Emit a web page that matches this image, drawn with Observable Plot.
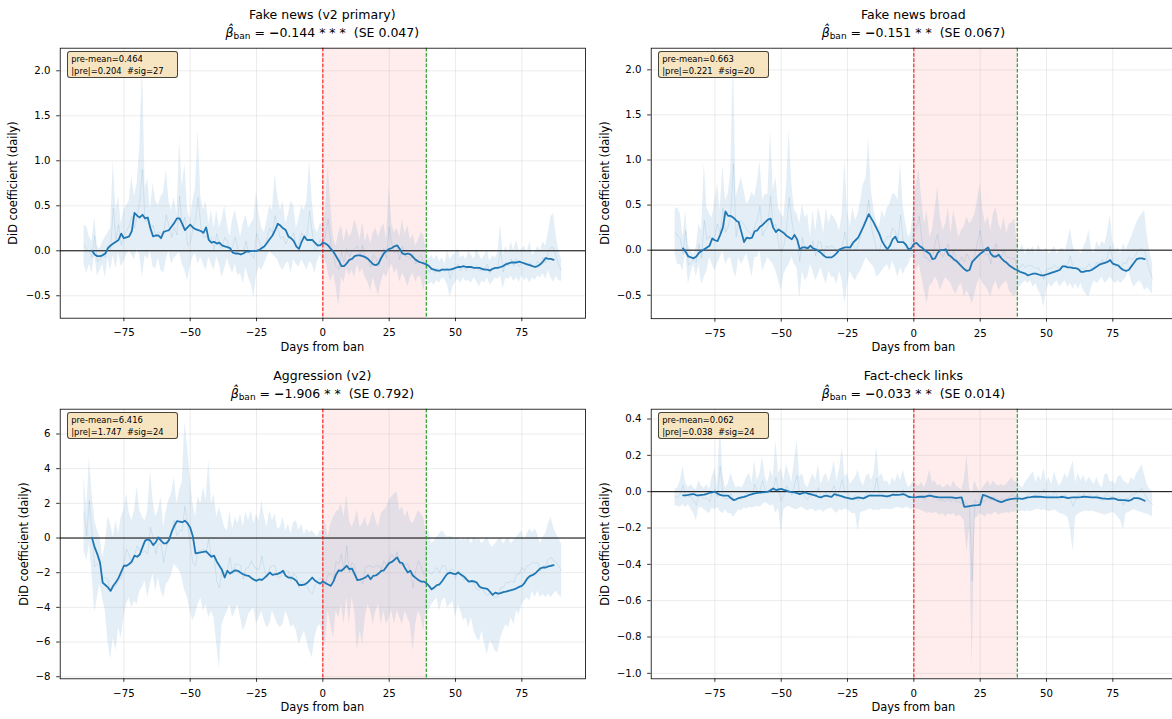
<!DOCTYPE html>
<html><head><meta charset="utf-8">
<script src="https://cdn.jsdelivr.net/npm/d3@7"></script>
<script src="https://cdn.jsdelivr.net/npm/@observablehq/plot@0.6"></script>
<style>
html,body{margin:0;padding:0;background:#fff;overflow:hidden;}
#fig{position:relative;width:1172px;height:719px;overflow:hidden;font-family:"DejaVu Sans",sans-serif;color:#000;}
.t{position:absolute;white-space:nowrap;transform:translate(-50%,-50%);line-height:1;}
.yl{position:absolute;white-space:nowrap;transform:translate(-50%,-50%) rotate(-90deg);line-height:1;font-size:11.4px;}
.sv{position:absolute;}
.box{position:absolute;box-sizing:border-box;background:rgba(245,222,179,0.8);border:1px solid rgba(0,0,0,0.7);border-radius:3px;font-size:8.4px;line-height:12px;padding:1px 0 0 3px;white-space:pre;}
</style></head><body><div id="fig"></div>
<script>
// ---------------- data ----------------
const days = d3.range(-90, 91);        // daily estimates
const smoothDays = d3.range(-87, 88);  // 7-day smoothed line
const xTicks = [-75, -50, -25, 0, 25, 50, 75];
const banWindow = [{start: 0, end: 39}];
const banStart = [0];
const banEnd = [39];

const titles = ["Fake news (v2 primary)", "Fake news broad", "Aggression (v2)", "Fact-check links"];
const betaValues = ["−0.144", "−0.151", "−1.906", "−0.033"];
const betaStars = ["* * *", "* *", "* *", "* *"];
const seValues = ["0.047", "0.067", "0.792", "0.014"];
const preMeans = ["0.464", "0.663", "6.416", "0.062"];
const preAbs = ["0.204", "0.221", "1.747", "0.038"];
const nSig = ["27", "20", "24", "24"];

// Fake news (v2 primary)
const fn1Hi = [
 0.28,0.27,0.15,0.10,0.38,0.05,0.02,0.10,0.15,0.20,
 0.25,1.00,0.45,0.60,0.30,0.45,0.50,0.55,0.82,0.60,
 0.75,1.15,2.11,0.70,0.80,0.45,0.75,0.55,0.50,0.60,
 0.65,0.90,0.55,0.45,0.60,0.40,1.23,0.70,0.97,0.45,
 0.35,0.55,0.70,1.34,0.60,0.45,0.55,0.30,0.45,0.25,
 0.45,0.25,0.35,0.50,0.30,0.15,0.35,0.45,0.30,0.15,
 0.30,0.40,0.25,0.30,0.35,0.67,0.40,0.25,0.20,0.35,
 0.50,0.45,0.85,0.60,0.45,0.55,0.30,0.40,0.55,0.50,
 0.25,0.35,0.50,0.45,0.55,1.00,0.55,0.25,0.20,0.30,
 0.30,0.45,0.95,0.50,0.15,0.05,0.20,0.28,0.10,0.25,
 0.15,0.20,0.35,0.25,0.12,0.32,0.10,0.20,0.08,0.20,
 0.25,0.15,0.25,0.30,0.12,0.73,0.30,0.20,0.25,0.15,
 0.35,0.18,0.28,0.12,0.18,0.05,0.12,0.20,0.18,0.00,
 -0.10,-0.05,-0.10,-0.05,-0.12,-0.08,-0.15,0.00,-0.10,-0.05,
 -0.03,0.02,-0.08,-0.05,-0.10,0.00,-0.05,-0.10,0.02,-0.05,
 -0.10,-0.05,0.00,-0.12,-0.05,-0.08,-0.02,0.30,-0.05,0.05,
 -0.02,0.10,0.00,0.12,0.00,0.02,0.05,-0.02,0.10,-0.05,
 -0.02,0.05,0.00,0.10,0.05,0.20,0.38,0.41,0.15,0.00,-0.10];
const fn1Lo = [
 -0.15,-0.25,-0.15,-0.25,-0.05,-0.28,-0.22,-0.15,-0.30,-0.08,
 -0.22,-0.05,-0.20,-0.02,-0.18,-0.12,-0.05,0.00,-0.05,-0.10,
 0.02,-0.05,-0.30,-0.05,-0.10,0.00,-0.18,-0.20,-0.08,-0.22,
 -0.25,-0.10,0.00,-0.15,-0.08,-0.05,-0.02,-0.15,-0.22,-0.33,
 -0.18,-0.07,-0.03,-0.15,-0.07,-0.15,-0.22,-0.07,-0.15,-0.22,
 -0.07,-0.15,-0.30,-0.20,-0.08,-0.18,-0.25,-0.15,-0.28,-0.25,
 -0.37,-0.18,-0.30,-0.37,-0.52,-0.28,-0.18,-0.22,-0.14,-0.07,
 0.00,-0.04,-0.07,-0.10,-0.18,-0.22,-0.15,-0.12,-0.25,-0.10,
 -0.15,-0.18,-0.10,-0.15,-0.22,-0.12,-0.15,-0.25,-0.12,-0.05,
 -0.15,-0.10,-0.25,-0.35,-0.25,-0.40,-0.62,-0.30,-0.35,-0.20,
 -0.28,-0.22,-0.30,-0.15,-0.25,-0.20,-0.30,-0.35,-0.45,-0.30,
 -0.40,-0.50,-0.35,-0.25,-0.30,-0.20,-0.15,-0.25,-0.20,-0.35,
 -0.25,-0.30,-0.40,-0.30,-0.25,-0.35,-0.28,-0.30,-0.45,-0.30,
 -0.38,-0.35,-0.38,-0.33,-0.36,-0.30,-0.32,-0.38,-0.52,-0.40,
 -0.35,-0.32,-0.36,-0.30,-0.34,-0.33,-0.36,-0.30,-0.34,-0.40,
 -0.33,-0.36,-0.30,-0.38,-0.35,-0.30,-0.32,-0.28,-0.42,-0.30,
 -0.32,-0.28,-0.34,-0.30,-0.35,-0.28,-0.33,-0.30,-0.36,-0.30,
 -0.33,-0.28,-0.30,-0.25,-0.32,-0.22,-0.30,-0.35,-0.28,-0.33,-0.34];
const fn1Smooth = [
 0.00,-0.04,-0.06,-0.06,-0.05,-0.03,0.03,0.06,0.08,0.10,
 0.12,0.19,0.14,0.15,0.16,0.22,0.42,0.39,0.37,0.40,
 0.36,0.37,0.25,0.16,0.17,0.17,0.14,0.21,0.22,0.23,
 0.27,0.31,0.36,0.36,0.30,0.23,0.26,0.29,0.26,0.24,
 0.23,0.22,0.20,0.26,0.12,0.09,0.10,0.08,0.09,0.06,
 0.05,0.04,0.03,-0.02,-0.03,-0.03,-0.04,-0.03,-0.01,-0.01,
 0.00,0.00,0.00,0.01,0.03,0.05,0.09,0.13,0.17,0.23,
 0.30,0.28,0.25,0.23,0.16,0.14,0.11,0.05,0.02,0.10,
 0.16,0.12,0.12,0.12,0.09,0.06,0.06,
 0.09,0.08,0.06,0.02,-0.01,-0.06,-0.11,-0.17,-0.17,-0.14,
 -0.10,-0.09,-0.06,-0.05,-0.05,-0.06,-0.07,-0.09,-0.12,-0.15,
 -0.16,-0.14,-0.08,-0.03,0.00,0.02,0.03,0.05,0.06,0.02,
 -0.03,-0.04,-0.03,-0.04,-0.07,-0.10,-0.12,-0.13,-0.14,-0.15,
 -0.17,-0.20,-0.21,-0.22,-0.22,-0.21,-0.21,-0.21,-0.21,-0.20,
 -0.19,-0.18,-0.18,-0.17,-0.18,-0.18,-0.18,-0.19,-0.19,-0.19,
 -0.20,-0.21,-0.21,-0.22,-0.20,-0.19,-0.19,-0.18,-0.17,-0.15,
 -0.14,-0.13,-0.13,-0.13,-0.12,-0.13,-0.14,-0.15,-0.16,-0.17,
 -0.18,-0.17,-0.15,-0.12,-0.08,-0.09,-0.09,-0.10];

// Fake news broad
const fn2Hi = [
 0.45,0.47,0.40,0.14,0.44,0.05,-0.01,-0.05,0.03,0.29,
 0.21,0.96,0.47,0.40,0.36,0.55,0.73,0.44,0.94,0.55,
 0.62,0.88,2.15,0.59,0.70,0.81,0.66,0.51,0.55,0.64,
 0.59,0.75,0.99,0.55,0.62,0.62,1.33,0.66,0.81,0.47,
 0.40,0.36,0.70,1.33,0.73,0.44,0.40,0.29,0.51,0.36,
 0.40,0.14,0.44,0.21,0.47,0.36,0.18,0.47,0.29,0.40,
 0.36,0.30,0.21,0.40,1.01,0.44,0.25,0.47,0.33,0.40,
 0.55,0.73,0.80,1.24,0.66,0.44,0.30,0.25,0.44,0.36,
 0.47,0.51,0.62,0.62,0.55,0.97,0.47,0.29,0.14,0.20,
 0.51,0.74,0.90,0.55,0.29,0.44,0.14,0.22,0.45,0.70,
 0.37,0.22,0.29,0.48,0.18,0.44,0.29,0.14,0.22,0.26,
 0.37,0.29,0.33,0.40,0.55,0.74,0.44,0.29,0.37,0.22,
 0.40,0.48,0.29,0.22,0.37,0.18,0.29,0.30,0.35,0.05,
 0.00,0.07,-0.05,0.03,0.00,0.04,-0.04,0.06,0.00,-0.02,
 0.03,-0.04,0.00,0.04,-0.04,0.00,0.03,-0.02,0.10,0.24,
 0.05,-0.02,0.00,-0.04,0.03,0.10,0.22,0.00,-0.04,0.10,
 0.03,0.10,0.06,0.20,0.39,0.10,0.00,0.03,-0.04,0.07,
 0.00,0.07,0.14,0.22,0.30,0.36,0.40,0.44,0.15,-0.02,-0.15];
const fn2Lo = [
 -0.04,-0.16,-0.16,-0.23,-0.01,-0.38,-0.25,-0.16,-0.30,-0.16,
 -0.38,-0.30,-0.23,-0.08,-0.16,-0.23,-0.15,-0.08,-0.01,-0.16,
 -0.10,-0.08,-0.23,-0.30,-0.08,-0.16,-0.10,-0.04,-0.16,-0.30,
 -0.08,-0.08,-0.01,-0.23,-0.16,-0.08,-0.12,-0.16,-0.23,-0.34,
 -0.45,-0.27,-0.20,-0.16,-0.08,-0.16,-0.20,-0.54,-0.23,-0.34,
 -0.30,-0.16,-0.23,-0.34,-0.27,-0.19,-0.30,-0.38,-0.23,-0.30,
 -0.30,-0.38,-0.23,-0.34,-0.60,-0.38,-0.23,-0.30,-0.34,-0.27,
 -0.23,-0.16,-0.08,-0.12,-0.16,-0.19,-0.30,-0.27,-0.23,-0.19,
 -0.16,-0.23,-0.12,-0.20,-0.30,-0.19,-0.27,-0.20,-0.16,-0.08,
 -0.08,-0.23,-0.15,-0.30,-0.45,-0.60,-0.40,-0.37,-0.30,-0.34,
 -0.45,-0.37,-0.30,-0.34,-0.37,-0.45,-0.49,-0.40,-0.37,-0.52,
 -0.45,-0.50,-0.60,-0.49,-0.37,-0.30,-0.37,-0.40,-0.45,-0.52,
 -0.40,-0.34,-0.45,-0.40,-0.37,-0.34,-0.45,-0.49,-0.52,-0.45,
 -0.40,-0.37,-0.34,-0.37,-0.34,-0.41,-0.37,-0.45,-0.50,-0.63,
 -0.45,-0.37,-0.41,-0.37,-0.34,-0.41,-0.37,-0.34,-0.41,-0.37,
 -0.43,-0.37,-0.43,-0.37,-0.45,-0.49,-0.52,-0.41,-0.34,-0.37,
 -0.34,-0.30,-0.37,-0.34,-0.30,-0.34,-0.37,-0.34,-0.37,-0.34,
 -0.30,-0.23,-0.34,-0.41,-0.37,-0.34,-0.37,-0.45,-0.41,-0.45,-0.49];
const fn2Smooth = [
 0.02,-0.02,-0.07,-0.08,-0.09,-0.07,-0.03,-0.01,0.01,0.03,
 0.05,0.13,0.11,0.10,0.17,0.25,0.43,0.38,0.38,0.36,
 0.33,0.31,0.20,0.09,0.14,0.13,0.14,0.21,0.22,0.26,
 0.28,0.31,0.34,0.35,0.25,0.20,0.23,0.21,0.19,0.16,
 0.14,0.12,0.17,0.12,0.01,0.03,0.03,0.02,0.05,0.02,
 0.01,-0.01,-0.03,-0.06,-0.08,-0.08,-0.08,-0.06,-0.03,0.01,
 0.02,0.03,0.03,0.03,0.08,0.11,0.14,0.20,0.26,0.33,
 0.40,0.35,0.30,0.24,0.18,0.10,0.05,0.01,0.05,0.12,
 0.15,0.09,0.09,0.09,0.06,0.01,0.02,
 0.07,0.08,0.05,0.03,0.00,-0.02,-0.04,-0.10,-0.09,-0.03,
 0.00,0.00,0.01,-0.05,-0.07,-0.10,-0.12,-0.15,-0.18,-0.21,
 -0.23,-0.22,-0.13,-0.10,-0.07,-0.04,-0.02,0.01,0.03,-0.04,
 -0.07,-0.07,-0.05,-0.09,-0.12,-0.14,-0.17,-0.19,-0.21,-0.22,
 -0.24,-0.25,-0.26,-0.28,-0.27,-0.26,-0.26,-0.27,-0.28,-0.28,
 -0.27,-0.26,-0.25,-0.24,-0.23,-0.22,-0.18,-0.18,-0.19,-0.19,
 -0.20,-0.20,-0.21,-0.24,-0.24,-0.23,-0.23,-0.22,-0.20,-0.18,
 -0.16,-0.15,-0.14,-0.13,-0.11,-0.15,-0.16,-0.17,-0.20,-0.22,
 -0.23,-0.22,-0.18,-0.14,-0.10,-0.09,-0.09,-0.10];

// Aggression (v2)
const agHi = [
 3.61,1.58,4.68,2.55,1.00,0.43,0.04,-1.12,-0.35,1.20,
 0.81,0.04,1.00,0.23,1.20,1.58,2.55,1.50,1.00,1.58,
 2.94,1.58,1.20,1.00,1.58,3.90,2.16,1.20,1.60,2.36,
 0.62,1.58,2.20,2.55,3.52,1.97,2.74,3.20,6.72,5.26,
 3.52,1.97,1.20,2.36,1.97,2.94,2.20,4.48,1.97,2.55,
 1.20,1.78,1.20,0.62,0.40,1.58,0.45,1.20,0.81,1.39,
 0.62,1.50,1.00,1.58,0.81,1.39,1.00,2.16,1.20,0.60,
 1.58,1.00,1.39,0.50,0.62,1.20,0.40,0.81,0.23,0.90,
 1.00,0.43,0.81,0.20,0.52,0.30,0.42,0.23,0.04,0.43,
 0.43,1.00,0.04,0.81,1.20,1.50,1.58,1.97,1.20,2.55,
 1.00,0.62,1.00,1.58,0.62,0.81,1.20,0.62,1.00,1.58,
 1.00,0.62,1.39,1.58,1.78,2.16,2.36,2.55,2.65,1.58,
 1.78,1.20,1.58,1.00,0.81,1.20,1.58,1.39,1.20,0.23,
 0.43,-0.35,-0.15,0.04,0.23,0.43,0.23,0.04,0.10,0.04,
 -0.10,0.04,-0.15,-0.05,-0.15,0.04,-0.35,0.04,-0.15,-0.05,
 -0.35,-0.15,0.04,-0.35,-0.54,-0.35,-0.15,0.04,-0.35,-0.15,
 0.04,-0.35,-0.15,0.04,0.23,0.43,-0.15,0.23,0.52,0.30,
 0.52,0.23,-0.35,0.04,0.23,0.81,1.20,0.60,0.23,-0.05,-0.35];
const agLo = [
 -0.73,-1.31,-0.35,-2.09,-4.31,-3.44,-2.67,-3.50,-4.21,-5.95,
 -7.01,-5.76,-6.53,-5.18,-5.76,-4.60,-3.83,-3.44,-4.02,-3.63,
 -3.83,-3.05,-2.86,-2.47,-3.44,-2.67,-2.09,-3.05,-2.28,-3.05,
 -3.44,-2.67,-2.47,-2.09,-1.51,-1.70,-1.89,-2.30,-3.05,-3.44,
 -4.21,-4.79,-4.41,-3.83,-3.44,-4.21,-3.83,-4.60,-4.21,-4.60,
 -6.14,-7.54,-4.99,-4.60,-4.21,-3.83,-4.60,-4.21,-3.83,-4.60,
 -5.37,-4.99,-4.41,-4.21,-4.02,-4.99,-4.60,-4.21,-4.79,-5.18,
 -4.99,-4.21,-4.60,-4.99,-5.18,-4.99,-4.21,-4.60,-5.18,-4.99,
 -5.37,-6.14,-5.76,-5.37,-5.95,-6.53,-6.92,-5.76,-5.18,-4.99,
 -5.76,-6.14,-4.21,-4.99,-5.76,-4.21,-4.60,-3.83,-4.99,-3.44,
 -4.99,-3.44,-4.21,-6.53,-5.37,-6.14,-4.60,-3.83,-4.21,-4.99,
 -4.21,-3.83,-4.99,-4.21,-4.99,-4.60,-4.21,-4.99,-4.21,-4.60,
 -4.99,-4.21,-4.60,-4.99,-6.53,-4.99,-4.21,-4.60,-5.37,-4.02,
 -4.21,-3.83,-3.63,-3.44,-4.21,-3.63,-3.44,-4.02,-3.83,-3.63,
 -4.60,-3.83,-4.21,-4.79,-4.60,-5.18,-4.60,-5.37,-5.76,-5.95,
 -5.37,-6.14,-6.73,-5.95,-6.14,-6.53,-6.62,-5.76,-5.37,-4.99,
 -5.18,-4.60,-4.99,-4.21,-4.41,-3.83,-3.63,-3.44,-3.63,-3.05,
 -3.44,-3.05,-3.44,-3.25,-3.44,-3.25,-3.44,-3.25,-3.05,-3.30,-3.44];
const agSmooth = [
 0.00,-0.54,-0.93,-1.41,-2.57,-2.71,-2.85,-3.05,-2.75,-2.55,
 -2.30,-1.95,-1.60,-1.60,-1.50,-1.35,-1.02,-1.08,-0.95,-0.54,
 -0.15,-0.08,-0.15,-0.41,-0.25,0.04,-0.15,-0.31,-0.31,-0.12,
 0.35,0.70,0.97,0.95,0.91,1.00,0.85,0.60,0.10,-0.89,
 -0.86,-0.83,-0.80,-0.77,-0.93,-1.08,-1.02,-1.35,-1.60,-1.85,
 -2.28,-1.89,-2.05,-1.95,-1.86,-1.89,-2.00,-2.09,-2.15,-2.18,
 -2.30,-2.40,-2.47,-2.38,-2.42,-2.30,-2.15,-1.99,-2.13,-2.09,
 -2.07,-2.00,-1.89,-2.18,-2.28,-2.28,-2.35,-2.47,-2.71,-2.71,
 -2.69,-2.60,-2.45,-2.28,-2.45,-2.55,-2.63,
 -2.51,-2.60,-2.68,-2.76,-2.50,-2.10,-1.86,-1.89,-1.75,-1.60,
 -1.80,-1.76,-2.09,-2.43,-2.40,-2.35,-2.28,-2.14,-2.38,-2.18,
 -2.16,-2.05,-1.89,-1.86,-1.65,-1.45,-1.38,-1.25,-1.12,-1.41,
 -1.45,-1.75,-1.99,-1.89,-2.18,-2.30,-2.42,-2.51,-2.51,-2.60,
 -2.76,-2.96,-2.85,-2.72,-2.67,-2.48,-2.25,-2.05,-2.00,-2.05,
 -2.09,-1.99,-2.10,-2.20,-2.35,-2.51,-2.48,-2.50,-2.57,-2.80,
 -2.88,-2.90,-2.93,-3.10,-3.28,-3.15,-3.21,-3.18,-3.12,-3.09,
 -3.05,-3.01,-2.96,-2.90,-2.82,-2.76,-2.60,-2.35,-2.20,-2.14,
 -2.05,-1.90,-1.75,-1.70,-1.70,-1.64,-1.60,-1.57];

// Fact-check links
const fcHi = [
 0.015,0.02,0.06,0.14,0.05,0.02,0.04,0.02,0.01,0.06,
 0.03,0.02,0.04,0.01,0.08,0.13,0.03,0.39,0.10,0.02,
 0.04,0.10,0.06,0.02,0.03,0.02,0.04,0.08,0.10,0.05,
 0.17,0.06,0.10,0.19,0.08,0.05,0.12,0.08,0.28,0.10,
 0.13,0.06,0.15,0.10,0.05,0.17,0.28,0.08,0.10,0.04,
 0.02,0.06,0.10,0.06,0.15,0.04,0.08,0.10,0.05,0.10,
 0.17,0.06,0.12,0.24,0.08,0.10,0.04,0.06,0.08,0.12,
 0.06,0.03,0.08,0.10,0.06,0.10,0.25,0.08,0.10,0.05,
 0.06,0.03,0.08,0.05,0.10,0.06,0.12,0.06,0.02,0.04,
 0.06,0.04,0.03,0.05,0.02,0.06,0.12,0.05,0.06,0.03,
 0.04,0.02,0.03,0.04,0.02,0.06,0.03,0.02,0.01,0.06,
 0.20,0.02,-0.01,0.06,0.02,0.00,0.02,0.04,0.06,0.03,
 0.06,0.04,0.03,0.04,0.03,0.04,0.06,0.08,0.05,0.06,
 0.03,0.02,0.05,0.07,0.09,0.11,0.05,0.09,0.06,0.13,
 0.05,0.08,0.04,0.11,0.06,0.03,0.06,0.10,0.07,0.12,
 0.17,0.05,0.10,0.06,0.09,0.05,0.08,0.06,0.04,0.08,
 0.04,0.02,0.09,0.10,0.05,0.06,0.04,0.08,0.09,0.06,
 0.05,0.04,0.08,0.06,0.10,0.12,0.15,0.09,0.04,0.01,0.00];
const fcLo = [
 -0.077,-0.08,-0.086,-0.07,-0.09,-0.07,-0.096,-0.12,-0.16,-0.09,
 -0.086,-0.10,-0.11,-0.12,-0.09,-0.10,-0.086,-0.11,-0.12,-0.10,
 -0.12,-0.12,-0.14,-0.12,-0.10,-0.105,-0.09,-0.096,-0.086,-0.09,
 -0.086,-0.08,-0.086,-0.07,-0.06,-0.068,-0.08,-0.07,-0.12,-0.09,
 -0.23,-0.10,-0.086,-0.08,-0.09,-0.096,-0.10,-0.09,-0.086,-0.10,
 -0.105,-0.10,-0.096,-0.11,-0.105,-0.10,-0.114,-0.10,-0.096,-0.09,
 -0.105,-0.12,-0.10,-0.105,-0.096,-0.10,-0.11,-0.123,-0.12,-0.22,
 -0.114,-0.11,-0.105,-0.10,-0.096,-0.105,-0.10,-0.105,-0.096,-0.10,
 -0.096,-0.10,-0.096,-0.09,-0.086,-0.09,-0.096,-0.086,-0.09,-0.10,
 -0.086,-0.096,-0.10,-0.105,-0.11,-0.12,-0.114,-0.12,-0.114,-0.12,
 -0.13,-0.12,-0.14,-0.12,-0.13,-0.12,-0.14,-0.13,-0.14,-0.16,
 -0.33,-0.20,-0.97,-0.15,-0.14,-0.12,-0.13,-0.14,-0.12,-0.13,
 -0.12,-0.11,-0.13,-0.12,-0.12,-0.114,-0.12,-0.11,-0.114,-0.10,
 -0.11,-0.105,-0.11,-0.105,-0.11,-0.105,-0.10,-0.096,-0.105,-0.10,
 -0.105,-0.11,-0.105,-0.10,-0.11,-0.12,-0.123,-0.13,-0.14,-0.20,
 -0.33,-0.14,-0.123,-0.114,-0.11,-0.105,-0.11,-0.105,-0.11,-0.114,
 -0.12,-0.123,-0.13,-0.123,-0.12,-0.114,-0.123,-0.142,-0.16,-0.21,
 -0.12,-0.114,-0.105,-0.10,-0.105,-0.11,-0.114,-0.12,-0.123,-0.13,-0.142];
const fcSmooth = [
 -0.020,-0.020,-0.018,-0.015,-0.013,-0.020,-0.020,-0.018,-0.016,-0.012,
 -0.006,-0.004,0.000,-0.010,-0.018,-0.022,-0.022,-0.022,-0.035,-0.046,
 -0.042,-0.035,-0.031,-0.028,-0.024,-0.018,-0.014,-0.009,-0.007,-0.005,
 -0.004,-0.002,0.000,0.008,0.018,0.009,0.012,0.015,0.010,0.006,
 0.000,-0.002,-0.004,-0.008,-0.013,-0.008,-0.004,-0.010,-0.013,-0.018,
 -0.022,-0.028,-0.031,-0.025,-0.022,-0.026,-0.028,-0.013,-0.018,-0.022,
 -0.026,-0.031,-0.034,-0.038,-0.040,-0.035,-0.031,-0.034,-0.037,-0.030,
 -0.022,-0.022,-0.022,-0.022,-0.022,-0.022,-0.024,-0.026,-0.022,-0.017,
 -0.018,-0.018,-0.016,-0.013,-0.020,-0.028,-0.030,
 -0.031,-0.030,-0.028,-0.028,-0.028,-0.025,-0.022,-0.025,-0.028,-0.030,
 -0.031,-0.031,-0.031,-0.031,-0.031,-0.033,-0.035,-0.033,-0.031,-0.083,
 -0.082,-0.079,-0.077,-0.075,-0.074,-0.072,-0.018,-0.022,-0.028,-0.034,
 -0.040,-0.047,-0.053,-0.057,-0.052,-0.046,-0.043,-0.040,-0.038,-0.037,
 -0.038,-0.040,-0.035,-0.031,-0.030,-0.028,-0.028,-0.028,-0.029,-0.030,
 -0.031,-0.031,-0.031,-0.031,-0.031,-0.030,-0.028,-0.031,-0.035,-0.033,
 -0.031,-0.031,-0.031,-0.030,-0.028,-0.029,-0.030,-0.031,-0.031,-0.031,
 -0.034,-0.037,-0.038,-0.040,-0.039,-0.037,-0.040,-0.046,-0.046,-0.046,
 -0.048,-0.050,-0.045,-0.035,-0.036,-0.037,-0.043,-0.050];

const yTicksFN = [-0.5, 0, 0.5, 1, 1.5, 2];
const yTicksAG = [-8, -6, -4, -2, 0, 2, 4, 6];
const yTicksFC = [-1, -0.8, -0.6, -0.4, -0.2, 0, 0.2, 0.4];

// ---------------- layout ----------------
const panels = [
  {left: 0,   top: 40,  hi: fn1Hi, lo: fn1Lo, sm: fn1Smooth, dom: [-0.749, 2.251], ticks: yTicksFN, fmt: ".1f", ph: 270,   ylx: 14.4},
  {left: 591, top: 40,  hi: fn2Hi, lo: fn2Lo, sm: fn2Smooth, dom: [-0.76, 2.24],   ticks: yTicksFN, fmt: ".1f", ph: 270.5, ylx: 14.7},
  {left: 0,   top: 401, hi: agHi,  lo: agLo,  sm: agSmooth,  dom: [-8.12, 7.43],   ticks: yTicksAG, fmt: "d",   ph: 269.6, ylx: 24.5},
  {left: 591, top: 401, hi: fcHi,  lo: fcLo,  sm: fcSmooth,  dom: [-1.03, 0.454],  ticks: yTicksFC, fmt: ".1f", ph: 269.6, ylx: 14.7}
];

const fig = document.getElementById("fig");
function addText(cls, x, y, html, size) {
  const d = document.createElement("div");
  d.className = cls;
  d.style.left = x + "px";
  d.style.top = y + "px";
  if (size) d.style.fontSize = size + "px";
  d.innerHTML = html;
  fig.appendChild(d);
  return d;
}

const ML = 59.7, MT = 7.7, MB = 26, PW = 525.3;
panels.forEach((p, k) => {
  if (p.hi.length !== days.length || p.lo.length !== days.length || p.sm.length !== smoothDays.length)
    throw new Error("length mismatch panel " + k + ": " + p.hi.length + "," + p.lo.length + "," + p.sm.length);
  const band = days.map((d, i) => ({day: d, lo: p.lo[i], hi: p.hi[i], est: (p.lo[i] + p.hi[i]) / 2}));
  const smooth = smoothDays.map((d, i) => ({day: d, v: p.sm[i]}));
  const grid = {stroke: "#b0b0b0", strokeOpacity: 0.3, strokeWidth: 0.8};
  const chart = Plot.plot({
    width: ML + PW + 1, height: MT + p.ph + MB,
    marginLeft: ML, marginRight: 1, marginTop: MT, marginBottom: MB,
    x: {domain: [-99, 99]},
    y: {domain: p.dom},
    style: {fontFamily: "DejaVu Sans", fontSize: "10.2px", color: "black", background: "transparent", overflow: "visible"},
    marks: [
      Plot.rect(banWindow, {x1: "start", x2: "end", fill: "red", fillOpacity: 0.07}),
      Plot.areaY(band, {x: "day", y1: "lo", y2: "hi", fill: "#1f77b4", fillOpacity: 0.12, clip: true}),
      Plot.gridX(xTicks, grid),
      Plot.gridY(p.ticks, grid),
      Plot.ruleY([0], {stroke: "black", strokeWidth: 1}),
      Plot.ruleX(banStart, {stroke: "red", strokeWidth: 1, strokeDasharray: "3.7,1.6"}),
      Plot.ruleX(banEnd, {stroke: "#2ca02c", strokeWidth: 1.2, strokeDasharray: "3.7,1.6"}),
      Plot.line(band, {x: "day", y: "est", stroke: "#1f77b4", strokeOpacity: 0.15, strokeWidth: 0.8, clip: true}),
      Plot.line(smooth, {x: "day", y: "v", stroke: "#1f77b4", strokeWidth: 1.8}),
      Plot.axisX(xTicks, {tickSize: 3.5, tickPadding: 7.2, strokeWidth: 0.8, label: null, tickFormat: d3.format("d")}),
      Plot.axisY(p.ticks, {tickSize: 3.5, tickPadding: 6.2, strokeWidth: 0.8, label: null, tickFormat: d3.format(p.fmt)}),
      Plot.frame({stroke: "black", strokeWidth: 0.8})
    ]
  });
  chart.classList.add("sv");
  chart.style.left = p.left + "px";
  chart.style.top = p.top + "px";
  fig.appendChild(chart);

  const cx = p.left + ML + PW / 2;
  const frameBottom = p.top + MT + p.ph;
  addText("t", cx, p.top - 25, titles[k], 12.5);
  addText("t", cx, p.top - 5.7,
    '<i>β\u0302</i><sub style="font-size:0.72em;vertical-align:-0.3em">ban</sub> = <b>' + betaValues[k].charAt(0) + '</b>' +
    betaValues[k].slice(1) + ' ' + betaStars[k] + '&nbsp; (SE ' + seValues[k] + ')', 12.5);
  addText("t", cx, frameBottom + 30, "Days from ban", 11.4);
  addText("yl", p.left + p.ylx, p.top + MT + p.ph / 2, "DiD coefficient (daily)");
  const b = document.createElement("div");
  b.className = "box";
  b.style.left = (p.left + 67.3) + "px";
  b.style.top = (p.top + 11) + "px";
  b.style.width = "110.7px";
  b.style.height = "26.7px";
  b.textContent = "pre-mean=" + preMeans[k] + "\n|pre|=" + preAbs[k] + "  #sig=" + nSig[k];
  fig.appendChild(b);
});
</script></body></html>
